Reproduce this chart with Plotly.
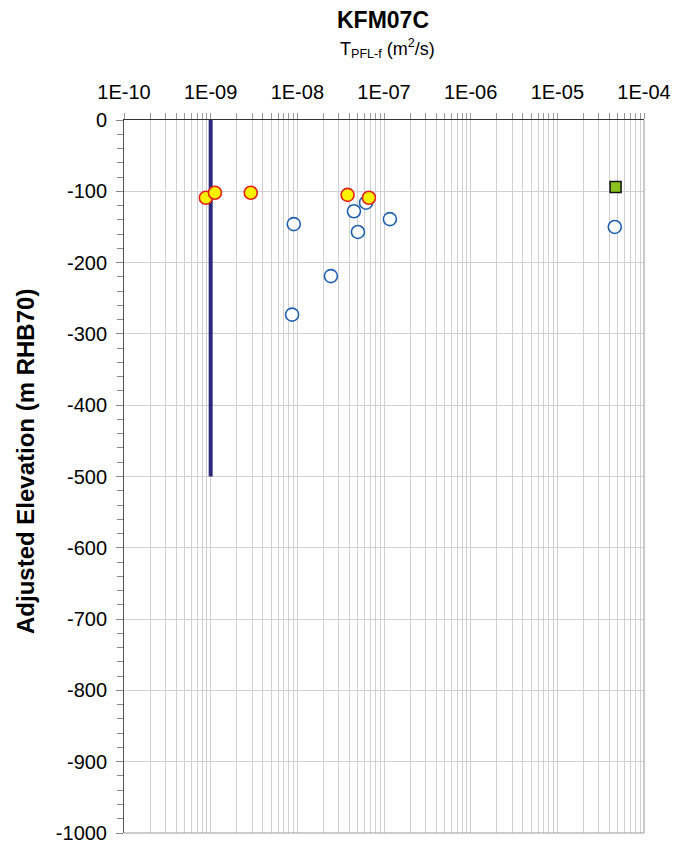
import plotly.graph_objects as go

# Data
pfl_yellow_T = [8.8e-10, 1.12e-9, 2.9e-9, 3.8e-8, 6.7e-8]
pfl_yellow_elev = [-109, -102, -102, -105, -109]

pfl_blue_T = [9.1e-9, 8.7e-9, 2.44e-8, 4.5e-8, 5.0e-8, 6.2e-8, 1.17e-7, 4.6e-5]
pfl_blue_elev = [-146, -273, -219, -128, -157, -116, -139, -150]

green_T = [4.7e-5]
green_elev = [-94]

limit_T = [1e-9, 1e-9]
limit_elev = [0, -500]

x_decades = [1e-10, 1e-9, 1e-8, 1e-7, 1e-6, 1e-5, 1e-4]
x_labels = ["1E-10", "1E-09", "1E-08", "1E-07", "1E-06", "1E-05", "1E-04"]
y_ticks = list(range(0, -1001, -100))
y_labels = [str(v) for v in y_ticks]

x_minor = [d * m for d in x_decades[:-1] for m in range(2, 10)]

fig = go.Figure()
fig.add_trace(go.Scatter(x=limit_T, y=limit_elev, mode="lines",
                         line=dict(color="#2B2A7A", width=4), showlegend=False))
fig.add_trace(go.Scatter(x=pfl_blue_T, y=pfl_blue_elev, mode="markers",
                         marker=dict(symbol="circle", size=13, color="white",
                                     line=dict(color="#1F5FAD", width=1.6)),
                         showlegend=False))
fig.add_trace(go.Scatter(x=pfl_yellow_T, y=pfl_yellow_elev, mode="markers",
                         marker=dict(symbol="circle", size=13, color="#FFF200",
                                     line=dict(color="#E0201B", width=1.6)),
                         showlegend=False))
fig.add_trace(go.Scatter(x=green_T, y=green_elev, mode="markers",
                         marker=dict(symbol="square", size=11, color="#8CC21E",
                                     line=dict(color="#111111", width=1.5)),
                         showlegend=False))

font = "Arial, Liberation Sans, sans-serif"
L, T, W, H = 124, 120, 520, 713
fig.update_layout(
    width=677, height=845,
    margin=dict(l=L, r=677 - L - W, t=T, b=845 - T - H, autoexpand=False),
    plot_bgcolor="white", paper_bgcolor="white",
    font=dict(family=font, color="black", size=20),
    title=dict(text="<b>KFM07C</b>", x=383 / 677, xanchor="center",
               y=1 - 20 / 845, yanchor="middle", font=dict(size=23, family=font)),
    xaxis=dict(type="log", range=[-10, -4], side="top", automargin=False,
               tickmode="array", tickvals=x_decades, ticktext=x_labels,
               showgrid=True, gridcolor="#D0D0D0", gridwidth=1,
               ticks="outside", ticklen=6, tickcolor="#999999",
               minor=dict(tickmode="array", tickvals=x_minor, ticks="outside", ticklen=6,
                          tickcolor="#999999", showgrid=True, gridcolor="#D0D0D0", gridwidth=1),
               showline=True, linecolor="#333333", linewidth=1,
               tickfont=dict(size=20), zeroline=False, ticklabelstandoff=6),
    yaxis=dict(range=[-1000, 0], tickvals=y_ticks, ticktext=y_labels, automargin=False,
               showgrid=True, gridcolor="#D0D0D0", gridwidth=1,
               ticks="outside", ticklen=7, tickcolor="#888888",
               minor=dict(dtick=20, ticks="outside", ticklen=6, tickcolor="#888888", showgrid=False),
               showline=True, linecolor="#555555", linewidth=1,
               tickfont=dict(size=20), zeroline=False, ticklabelstandoff=5),
)
fig.add_shape(type="line", xref="paper", yref="paper", x0=1, x1=1, y0=0, y1=1,
              line=dict(color="#999999", width=1))
fig.add_shape(type="line", xref="paper", yref="paper", x0=0, x1=1, y0=0, y1=0,
              line=dict(color="#999999", width=1))
fig.add_annotation(text="T<sub>PFL-f</sub> (m<sup>2</sup>/s)", xref="paper", yref="paper",
                   x=(387 - L) / W, y=1 + (T - 48) / H,
                   xanchor="center", yanchor="middle", showarrow=False,
                   font=dict(size=18, family=font))
fig.add_annotation(text="<b>Adjusted Elevation (m RHB70)</b>", xref="paper", yref="paper",
                   x=(25 - L) / W, y=(T + H - 462) / H, textangle=-90,
                   xanchor="center", yanchor="middle", showarrow=False,
                   font=dict(size=24, family=font))

post = """
var s = document.createElement('style');
s.innerHTML = 'html,body{margin:0;padding:0;overflow:hidden;}';
document.head.appendChild(s);
"""
fig.write_html("out.html", post_script=post,
               config={"displayModeBar": False, "responsive": False})
